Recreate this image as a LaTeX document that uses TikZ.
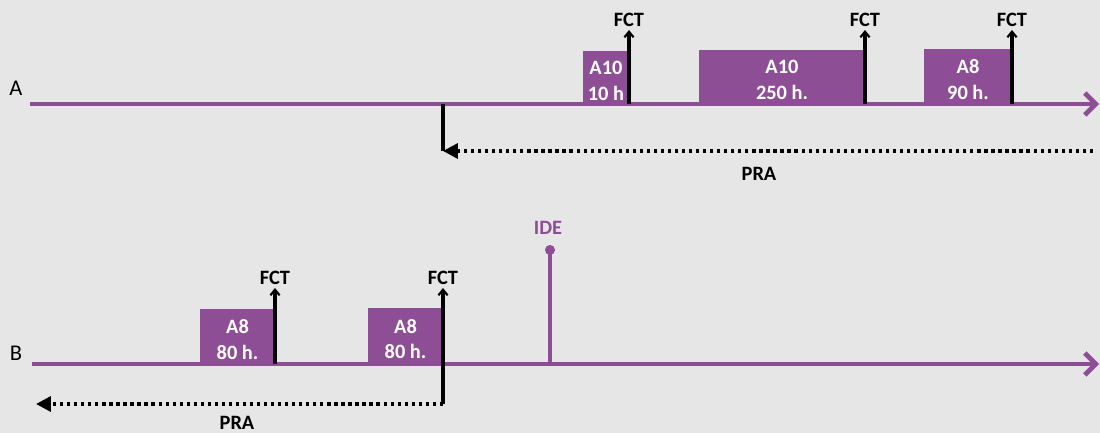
\documentclass[tikz,border=0pt]{standalone}
\usepackage{fontspec}
\setmainfont{Carlito}
\usetikzlibrary{arrows.meta}
\definecolor{lilac}{HTML}{8E4E96}
\definecolor{bgray}{HTML}{E6E6E6}

\begin{document}
\begin{tikzpicture}[x=0.025cm,y=-0.025cm,
    axis/.style={lilac,line width=3.3pt,-{Straight Barb[length=7.8pt,width=15.6pt]}},
    fct/.style={line width=2.4pt,-{Straight Barb[length=4pt,width=6.5pt,line width=1.5pt]}},
    pra/.style={line width=2.5pt,dash pattern=on 2.3pt off 2.7pt,-{Triangle[length=10.6pt,width=10.6pt]}},
    tag/.style={font=\fontsize{14.5}{18.4}\selectfont\bfseries,inner sep=1.5pt},
    boxtext/.style={tag,white,align=center},
    rowname/.style={font=\fontsize{16}{18}\selectfont}]
    \fill[bgray] (0,0) rectangle (1100,433);
    \useasboundingbox (0,0) rectangle (1100,433);
    \foreach \xa/\xb/\yt/\yb/\nm/\ta/\tb in {583/629/51/104/ba1/A10/10 h,699/865/50/104/ba2/A10/250 h.,
        924/1012/49/104/ba3/A8/90 h.,200/275/309/364/bb1/A8/80 h.,368/443/308/364/bb2/A8/80 h.}{
        \fill[lilac] (\xa,\yt) rectangle (\xb,\yb);
        \node[boxtext] (\nm) at ({(\xa+\xb)/2},{(\yt+\yb)/2+3}) {\ta\\\tb};
    }
    \coordinate (a0) at (30,104);
    \coordinate (a1) at (1099,104);
    \coordinate (b0) at (32,364);
    \coordinate (b1) at (1099,364);
    \draw[axis] (a0) -- (a1);
    \draw[axis] (b0) -- (b1);
    \node[rowname] (la) at (16,88) {A};
    \node[rowname] (lb) at (16,353) {B};
    \foreach \nm/\x/\yb/\yt in {fa1/629/104/30,fa2/865/104/30,fa3/1012/104/30,fb1/275/364/288,fb2/443/364/288}{
        \draw[fct] (\x,\yb) -- (\x,\yt) node[tag,anchor=south] (\nm) {FCT};
    }
    \coordinate (pa0) at (443,104);
    \coordinate (pa1) at (443,151);
    \coordinate (pa2) at (1093,151);
    \draw[line width=2.3pt] (pa0) -- (pa1);
    \draw[pra] (pa2) -- (pa1);
    \node[tag] (pra1) at (759,173.5) {PRA};
    \coordinate (pb0) at (443,364);
    \coordinate (pb1) at (443,404);
    \coordinate (pb2) at (36,404);
    \draw[line width=2.3pt] (pb0) -- (pb1);
    \draw[pra] (pb1) -- (pb2);
    \node[tag] (pra2) at (237,423) {PRA};
    \coordinate (i0) at (550,364);
    \coordinate (i1) at (550,250);
    \draw[lilac,line width=2.2pt] (i0) -- (i1);
    \fill[lilac] (i1) circle (3.6pt);
    \node[tag,lilac] (ide) at (548,228) {IDE};
\end{tikzpicture}
\end{document}
